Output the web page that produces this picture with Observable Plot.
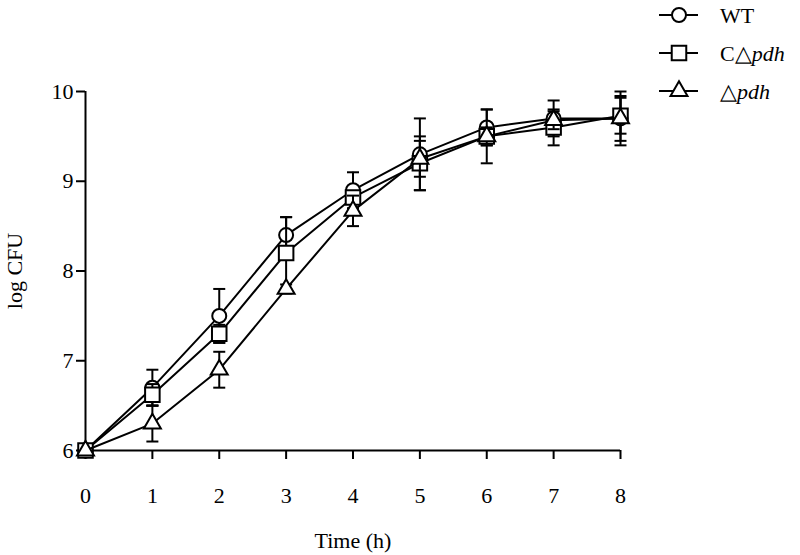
<!DOCTYPE html>
<html>
<head>
<meta charset="utf-8">
<script src="https://cdn.jsdelivr.net/npm/d3@7"></script>
<script src="https://cdn.jsdelivr.net/npm/@observablehq/plot@0.6"></script>
<style>
  html, body { margin: 0; padding: 0; background: #fff; }
  #wrap { position: relative; width: 800px; height: 555px; }
  #wrap svg.plot text { font-size: 22px; }
  #legend { position: absolute; left: 0; top: 0; pointer-events: none; }
</style>
</head>
<body>
<div id="wrap"></div>
<script>
// ---- data ----
const hours = [0, 1, 2, 3, 4, 5, 6, 7, 8];
const wt      = [6.0, 6.7, 7.5, 8.4, 8.9, 9.3, 9.6, 9.7, 9.7];
const wtErr   = [0, 0.2, 0.3, 0.2, 0.2, 0.4, 0.2, 0.2, 0.3];
const cpdh    = [6.0, 6.62, 7.3, 8.2, 8.82, 9.2, 9.5, 9.6, 9.73];
const cpdhErr = [0, 0.12, 0.1, 0.4, 0.05, 0.3, 0.1, 0.2, 0.2];
const pdh     = [6.0, 6.3, 6.9, 7.8, 8.67, 9.25, 9.5, 9.68, 9.7];
const pdhErr  = [0, 0.2, 0.2, 0.05, 0.17, 0.2, 0.3, 0.1, 0.25];
const seriesNames = ["WT", "C\u25B3pdh", "\u25B3pdh"];
const xTicks = [0, 1, 2, 3, 4, 5, 6, 7, 8];
const yTicks = [6, 7, 8, 9, 10];

const FONT = "'Liberation Serif', 'Times New Roman', Times, serif";

const series = [
  {name: seriesNames[0], values: wt, errs: wtErr, symbol: "circle", r: 7},
  {name: seriesNames[1], values: cpdh, errs: cpdhErr, symbol: "square", r: 8.2},
  {name: seriesNames[2], values: pdh, errs: pdhErr, symbol: "triangle", r: 6.3}
];

const capSymbol = {
  draw(context, size) {
    const w = 6;
    context.moveTo(-w, 0);
    context.lineTo(w, 0);
  }
};

const marks = [
  Plot.axisX({ticks: xTicks, tickFormat: d3.format("d"), tickSize: 9, tickPadding: 28, strokeWidth: 2,
    label: "Time (h)", labelAnchor: "center", labelArrow: "none", labelOffset: 97}),
  Plot.axisY({ticks: yTicks, tickFormat: d3.format("d"), tickSize: 9, tickPadding: 3, strokeWidth: 2,
    label: "log CFU", labelAnchor: "center", labelArrow: "none", labelOffset: 79}),
  Plot.ruleY([6], {strokeWidth: 2}),
  Plot.ruleX([0], {strokeWidth: 2})
];

for (const s of series) {
  const rows = hours.map((h, i) => ({x: h, y: s.values[i], e: s.errs[i]}));
  const errRows = rows.filter(d => d.e > 0);
  marks.push(
    Plot.line(rows, {x: "x", y: "y", stroke: "black", strokeWidth: 2, curve: "linear"}),
    Plot.ruleX(errRows, {x: "x", y1: d => d.y - d.e, y2: d => d.y + d.e, stroke: "black", strokeWidth: 2}),
    Plot.dot(errRows, {x: "x", y: d => d.y + d.e, symbol: capSymbol, stroke: "black", strokeWidth: 2, fill: "none"}),
    Plot.dot(errRows, {x: "x", y: d => d.y - d.e, symbol: capSymbol, stroke: "black", strokeWidth: 2, fill: "none"}),
    Plot.dot(rows, {x: "x", y: "y", symbol: s.symbol, r: s.r, fill: "white", stroke: "black", strokeWidth: 2})
  );
}

const chart = Plot.plot({
  className: "plot",
  width: 800,
  height: 555,
  marginLeft: 85,
  marginRight: 180,
  marginTop: 91,
  marginBottom: 105,
  x: {domain: [0, 8]},
  y: {domain: [6, 10]},
  style: {fontFamily: FONT, fontSize: "22px", color: "black", background: "white"},
  marks
});
chart.classList.add("plot");
document.getElementById("wrap").appendChild(chart);

// ---- legend ----
const legendY = [15, 53, 91];
const leg = d3.select("#wrap").append("svg")
  .attr("id", "legend").attr("width", 800).attr("height", 120)
  .style("font-family", FONT).style("font-size", "22px");
const symbolTypes = [d3.symbolCircle, d3.symbolSquare, d3.symbolTriangle];
series.forEach((s, i) => {
  const g = leg.append("g").attr("transform", `translate(0,${legendY[i]})`);
  g.append("line").attr("x1", 659).attr("x2", 698).attr("y1", 0).attr("y2", 0)
    .attr("stroke", "black").attr("stroke-width", 2);
  g.append("path").attr("transform", "translate(679,0)")
    .attr("d", d3.symbol(symbolTypes[i], Math.PI * s.r * s.r)())
    .attr("fill", "white").attr("stroke", "black").attr("stroke-width", 2);
  const t = g.append("text").attr("x", 720).attr("y", 0).attr("dy", "0.35em").attr("fill", "black");
  if (i === 0) {
    t.text(s.name);
  } else {
    const pre = s.name.slice(0, s.name.indexOf("pdh"));
    t.append("tspan").text(pre);
    t.append("tspan").attr("font-style", "italic").text("pdh");
  }
});
</script>
</body>
</html>
